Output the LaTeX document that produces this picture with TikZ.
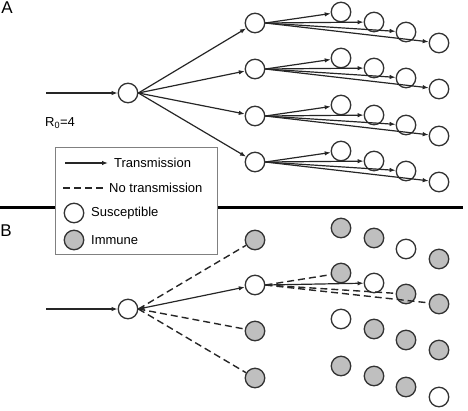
\documentclass[tikz,border=0pt]{standalone}
\usepackage{fontspec}
\setmainfont{Liberation Sans}
\usetikzlibrary{arrows.meta}

\begin{document}
\begin{tikzpicture}[x=1pt,y=-1pt,>={Latex[length=6pt,width=4.5pt]}]

        \tikzset{
            sus/.style={circle, draw=black!80, line width=1.3pt, fill=white, minimum size=19.5pt, inner sep=0pt},
            imm/.style={sus, fill=black!25},
            trans/.style={->, line width=1.2pt, black!85},
            notrans/.style={line width=1.4pt, black!85, dash pattern=on 7pt off 4pt},
            lbl/.style={font=\fontsize{13}{15}\selectfont, inner sep=0pt},
            panel/.style={font=\fontsize{17}{19}\selectfont, inner sep=0pt}
        }

        \useasboundingbox (0,0) rectangle (468,410);

        % panel A
        \node[panel] (labA) at (7,8) {A};
        \coordinate (inA) at (46,93);
        \node[sus] (rA) at (128,93) {};
        \draw[trans] (inA) -- (rA);
        \node[lbl] (rnum) at (60,123) {R\textsubscript{0}=4};

        \foreach \i/\y in {1/23,2/69,3/116,4/162}{
            \node[sus] (nA\i) at (255,\y) {};
            \draw[trans] (rA.east) -- (nA\i);
            \foreach \j/\x/\dy in {1/341/-11,2/374/-1,3/406/9,4/439/20}{
                \node[sus] (cA\i\j) at (\x,\y+\dy) {};
                \draw[trans] (nA\i.east) -- (cA\i\j);
            }
        }

        % divider
        \coordinate (divL) at (0,207);
        \coordinate (divR) at (463,207);
        \draw[line width=3pt] (divL) -- (divR);

        % legend
        \node[draw=black!50, fill=white, line width=0.8pt, minimum width=162pt,
            minimum height=107pt, inner sep=0pt] (legend) at (136,200.5) {};
        \coordinate (lgA1) at (65,163);
        \coordinate (lgA2) at (108,163);
        \draw[trans] (lgA1) -- (lgA2);
        \node[lbl, anchor=west] (lgT) at (114,163) {Transmission};
        \coordinate (lgD1) at (63,188);
        \coordinate (lgD2) at (105,188);
        \draw[notrans] (lgD1) -- (lgD2);
        \node[lbl, anchor=west] (lgN) at (109,188) {No transmission};
        \node[sus] (lgS) at (74,213) {};
        \node[lbl, anchor=west] (lgSt) at (91,213) {Susceptible};
        \node[imm] (lgI) at (74,240) {};
        \node[lbl, anchor=west] (lgIt) at (91,240) {Immune};

        % panel B
        \node[panel] (labB) at (6,231) {B};
        \coordinate (inB) at (46,309);
        \node[sus] (rB) at (128,309) {};
        \draw[trans] (inB) -- (rB);

        \foreach \i/\y/\s/\a/\b/\c/\d in {1/240/imm/imm/imm/sus/imm,
            2/285/sus/imm/sus/imm/imm, 3/331/imm/sus/imm/imm/imm,
            4/378/imm/imm/imm/imm/sus}{
            \node[\s] (nB\i) at (255,\y) {};
            \node[\a] (cB\i1) at (341,\y-12) {};
            \node[\b] (cB\i2) at (374,\y-2) {};
            \node[\c] (cB\i3) at (406,\y+9) {};
            \node[\d] (cB\i4) at (439,\y+19) {};
        }

        \draw[notrans] (rB.east) -- (nB1);
        \draw[trans, <->] (rB.east) -- (nB2);
        \draw[notrans] (rB.east) -- (nB3);
        \draw[notrans] (rB.east) -- (nB4);

        \draw[notrans] (nB2.east) -- (cB21);
        \draw[trans] (nB2.east) -- (cB22);
        \draw[notrans] (nB2.east) -- (cB23);
        \draw[notrans] (nB2.east) -- (cB24);

\end{tikzpicture}
\end{document}
